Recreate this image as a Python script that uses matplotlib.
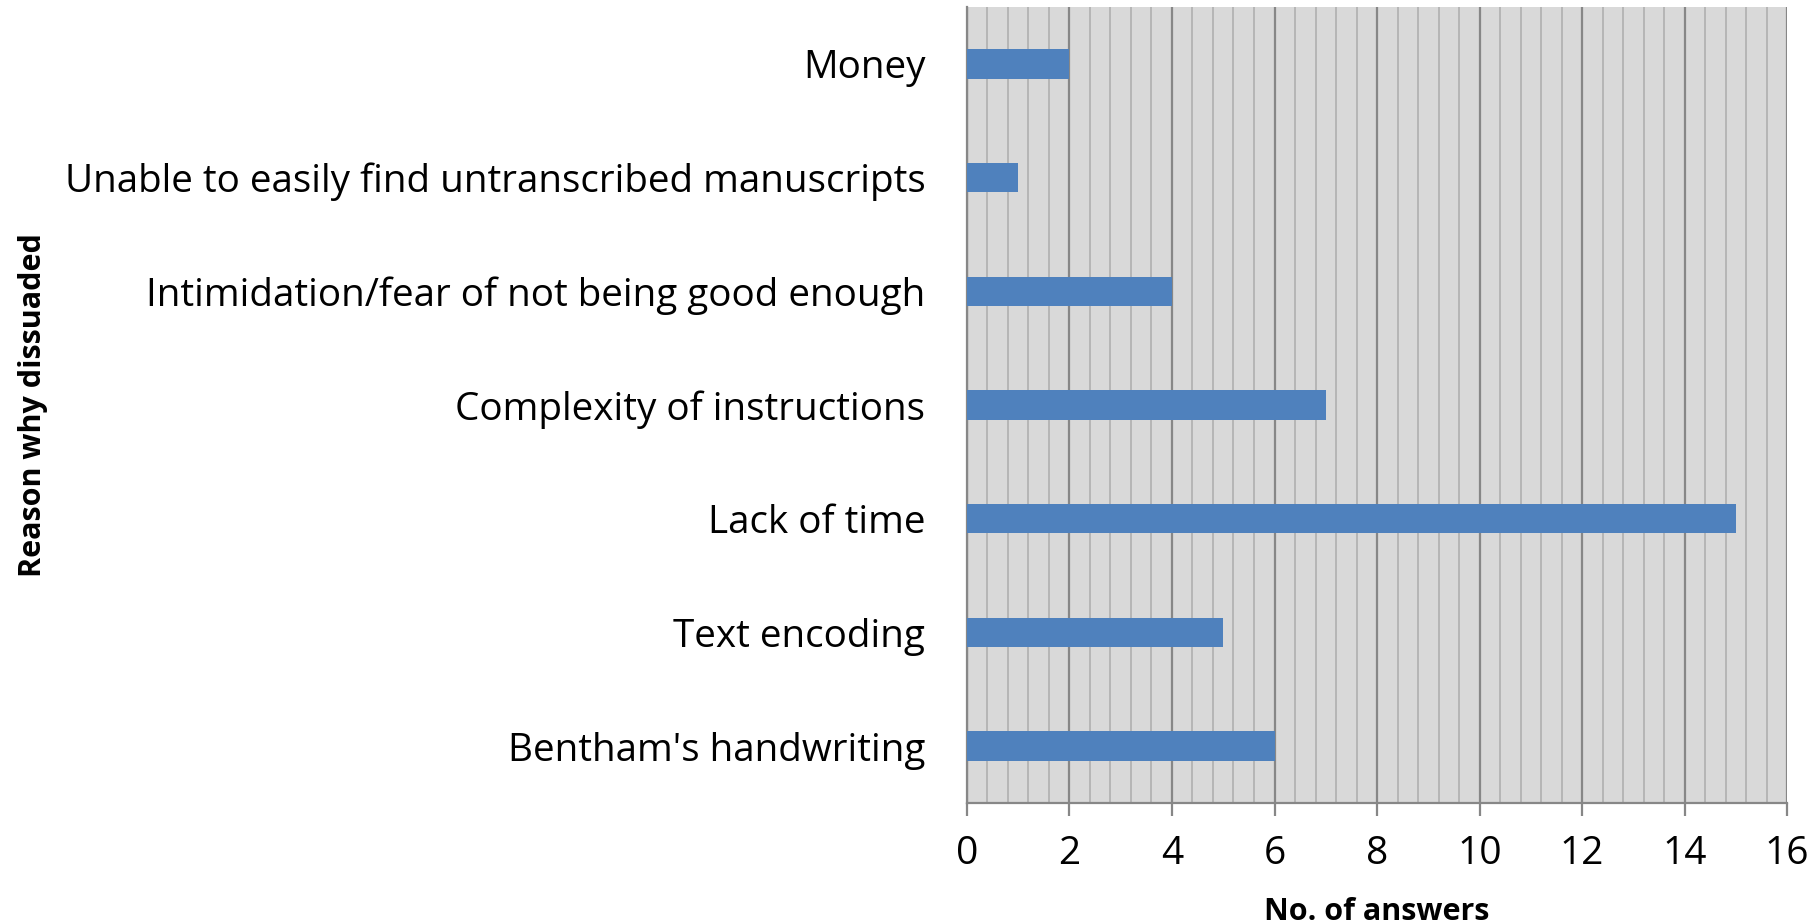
import matplotlib.pyplot as plt
import numpy as np

# Data (bottom to top)
reasons = ["Bentham's handwriting", "Text encoding", "Lack of time",
           "Complexity of instructions", "Intimidation/fear of not being good enough",
           "Unable to easily find untranscribed manuscripts", "Money"]
answers = [6, 5, 15, 7, 4, 1, 2]
x_ticks = [0, 2, 4, 6, 8, 10, 12, 14, 16]

plt.rcParams['font.family'] = ['Open Sans', 'DejaVu Sans']

fig = plt.figure(figsize=(18.2, 9.24), dpi=100)
ax = fig.add_axes([0.5313, 0.131, 0.4506, 0.8614])

y = np.arange(len(reasons))
ax.barh(y, answers, height=0.26, color='#4f81bd', zorder=3)

ax.set_facecolor('#d9d9d9')
ax.set_xlim(0, 16)
ax.set_ylim(-0.5, len(reasons) - 0.5)
ax.set_xticks(x_ticks)
ax.set_xticks(np.arange(0, 16.01, 0.4), minor=True)
ax.grid(axis='x', which='major', color='#878787', linewidth=1.6, zorder=1)
ax.grid(axis='x', which='minor', color='#b3b3b3', linewidth=1.3, zorder=1)
ax.set_yticks(y)
ax.set_yticklabels(reasons)

for s in ['top', 'right']:
    ax.spines[s].set_visible(False)
ax.spines['left'].set_color('#878787')
ax.spines['bottom'].set_color('#878787')
ax.spines['left'].set_linewidth(1.6)
ax.spines['bottom'].set_linewidth(1.6)

ax.tick_params(axis='y', length=0, pad=30, labelsize=27.8)
ax.tick_params(axis='x', which='major', length=9, width=1.6, color='#878787',
               pad=14, labelsize=28)
ax.tick_params(axis='x', which='minor', length=0)

ax.set_xlabel("No. of answers", fontsize=22, fontweight='bold', labelpad=17)
ax.set_ylabel("Reason why dissuaded", fontsize=22, fontweight='bold')
ax.yaxis.set_label_coords(-1.12, 0.5)

plt.savefig("out.png", dpi=100)
